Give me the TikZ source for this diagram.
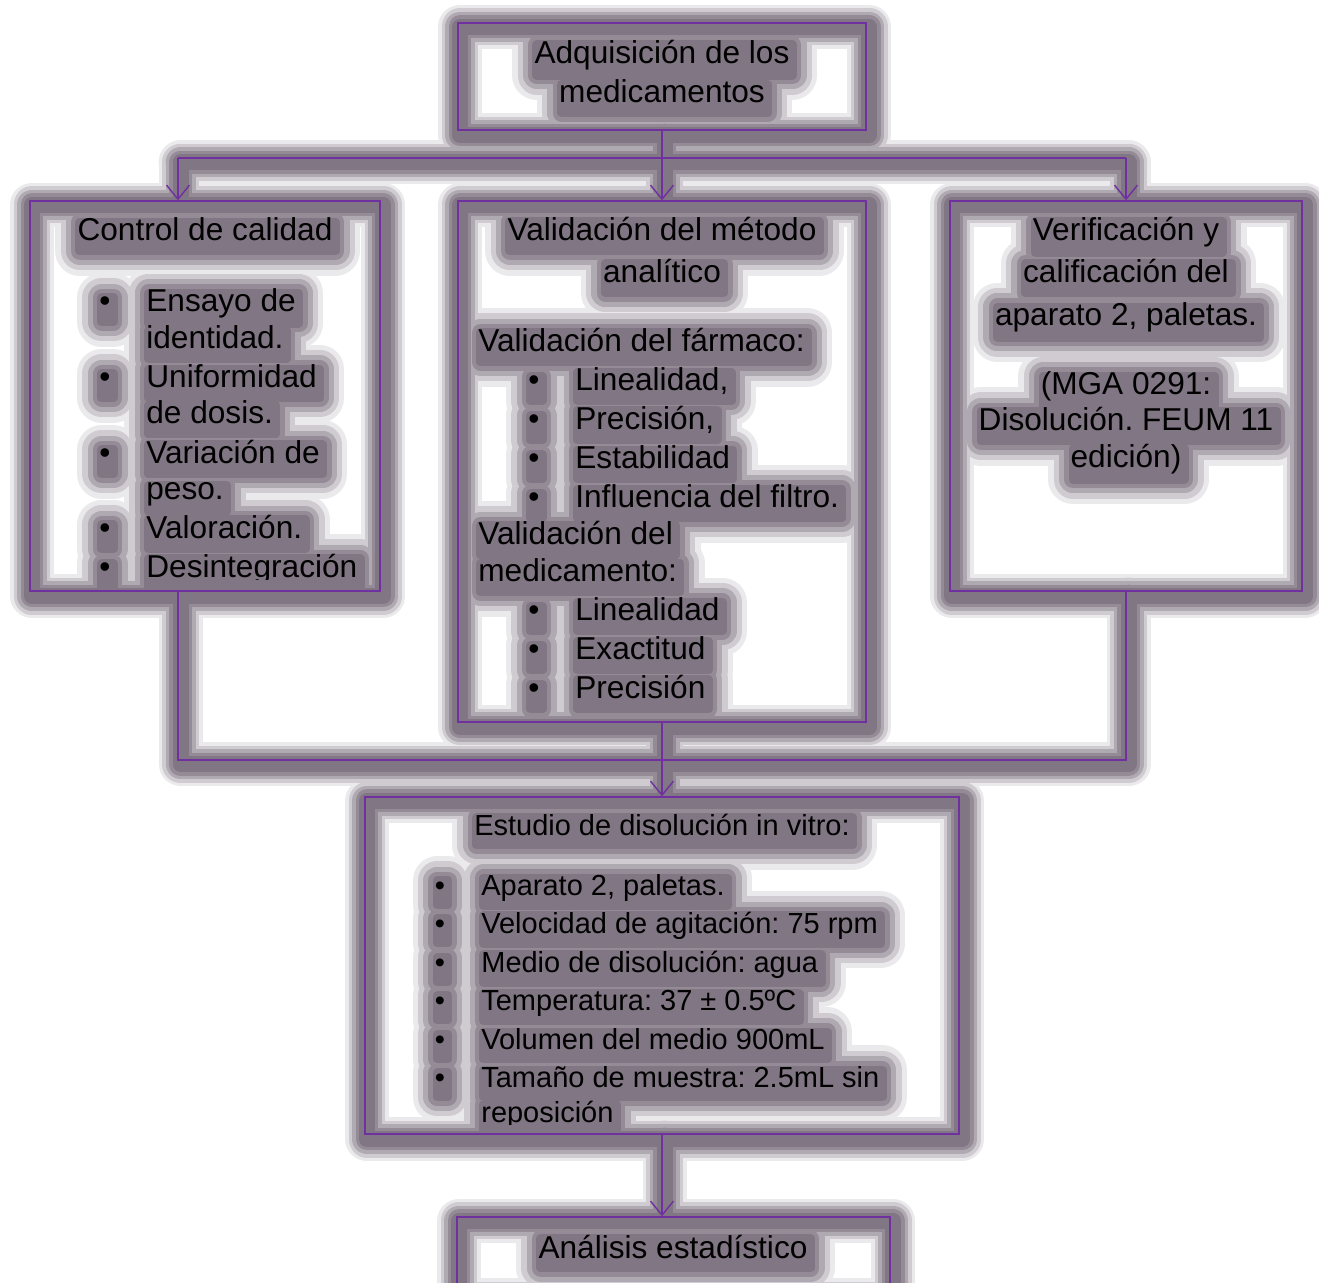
\documentclass[tikz,border=0pt]{standalone}
\usepackage{fontspec}
\setmainfont{Liberation Sans}
\frenchspacing
\usetikzlibrary{arrows.meta}
\pgfdeclarelayer{s1}
\pgfdeclarelayer{s2}
\pgfdeclarelayer{s3}
\pgfdeclarelayer{s4}
\pgfdeclarelayer{s5}
\pgfsetlayers{s1,s2,s3,s4,s5,main}

\definecolor{morado}{RGB}{112,48,160}
\definecolor{brillo}{RGB}{118,106,120}

\newcommand{\cuerpo}{\fontsize{18}{21.6}\selectfont}
\newcommand{\cuerpochico}{\fontsize{16.5}{21.8}\selectfont}
\newcommand{\alto}{\rule[-3pt]{0pt}{13.5pt}}

% halo gris alrededor de lineas y cajas
\newcommand{\halo}[1]{%
  \foreach \l/\w/\c in {s1/25/15, s2/21/35, s3/17/58, s4/13/78, s5/9/92} {%
    \begin{pgfonlayer}{\l}\draw[sombra, brillo!\c, line width=\w pt] #1;\end{pgfonlayer}}}
% halo gris detras del texto
\newcommand{\halotexto}[1]{%
  \foreach \l/\w/\c in {s1/28/15, s2/22/35, s3/16/58, s4/10/78, s5/5/92} {%
    \begin{pgfonlayer}{\l}\filldraw[sombra, brillo!\c, line width=\w pt]
      (#1.north west) rectangle (#1.south east);\end{pgfonlayer}}}

\tikzset{
  sombra/.style={line join=round, line cap=round, transform canvas={shift={(1.5pt,-2.5pt)}}},
  caja/.style={draw=morado, line width=0.8pt, inner sep=0pt},
  linea/.style={draw=morado, line width=0.8pt},
  flecha/.style={linea, -{Straight Barb[length=8pt,width=13pt]}},
  texto/.style={inner sep=0pt, font=\cuerpo\alto, anchor=base west,
    append after command={\pgfextra{\halotexto{\tikzlastnode}}}},
  centro/.style={texto, anchor=base},
  punto/.style={texto, anchor=base}
}

\begin{document}
\begin{tikzpicture}[x=0.02cm, y=-0.02cm]
\useasboundingbox (0,0) rectangle (1319,1283);

% cajas
\node[caja, minimum width=8.16cm, minimum height=2.14cm] (adq) at (662,76.5) {};
\node[caja, minimum width=7.0cm, minimum height=7.8cm] (ctrl) at (205,396) {};
\node[caja, minimum width=8.16cm, minimum height=10.42cm] (valid) at (662,461.5) {};
\node[caja, minimum width=7.04cm, minimum height=7.8cm] (verif) at (1126,396) {};
\node[caja, minimum width=11.88cm, minimum height=6.74cm] (estudio) at (662,965.5) {};
\node[caja, minimum width=8.66cm, minimum height=1.56cm] (analisis) at (673.5,1256) {};
\foreach \n in {adq,ctrl,valid,verif,estudio,analisis}
  \halo{(\n.north west) rectangle (\n.south east)};

% Adquisicion
\node[centro] (adq1) at (662,64) {Adquisición de los};
\node[centro] (adq2) at (662,103) {medicamentos};

% Control de calidad
\node[centro] (ctrlT) at (205,241) {Control de calidad};
\begin{scope}
\clip (30,201) rectangle (380,580);
\foreach \t/\y [count=\i] in {Ensayo de/312, identidad./349, Uniformidad/388,
    de dosis./424, Variación de/464, peso./500, Valoración./539, Desintegración/578}
  \node[texto] (ctrl\i) at (146,\y) {\t};
\foreach \y [count=\i] in {312,388,464,539,578}
  \node[punto] (cb\i) at (105,\y) {\textbullet};
\end{scope}

% Validacion del metodo
\node[centro] (valid1) at (662,241) {Validación del método};
\node[centro] (valid2) at (662,283) {analítico};
\node[texto] (farm) at (478,352) {Validación del fármaco:};
\foreach \t/\y [count=\i] in {{Linealidad,}/391, {Precisión,}/430, Estabilidad/469,
    Influencia del filtro./508} {
  \node[texto] (farm\i) at (575,\y) {\t};
  \node[punto] (fb\i) at (534,\y) {\textbullet};
}
\node[texto] (medi1) at (478,545) {Validación del};
\node[texto] (medi2) at (478,582) {medicamento:};
\foreach \t/\y [count=\i] in {Linealidad/621, Exactitud/660, Precisión/699} {
  \node[texto] (med\i) at (575,\y) {\t};
  \node[punto] (mb\i) at (534,\y) {\textbullet};
}

% Verificacion
\node[centro] (verif1) at (1126,241) {Verificación y};
\node[centro] (verif2) at (1126,283) {calificación del};
\node[centro] (verif3) at (1126,326) {aparato 2, paletas.};
\node[centro] (mga1) at (1126,395) {(MGA 0291:};
\node[centro] (mga2) at (1126,431) {Disolución. FEUM 11};
\node[centro] (mga3) at (1126,468) {edición)};

% Estudio de disolucion
\node[centro, font=\cuerpochico\alto] (estT) at (662,835) {Estudio de disolución in vitro:};
\begin{scope}
\clip (365,797) rectangle (959,1124);
\foreach \t/\y [count=\i] in {{Aparato 2, paletas.}/895, Velocidad de agitación: 75 rpm/933,
    Medio de disolución: agua/972, Temperatura: 37 ± 0.5ºC/1010,
    Volumen del medio 900mL/1049, Tamaño de muestra: 2.5mL sin/1087, reposición/1122}
  \node[texto, font=\cuerpochico\alto] (est\i) at (481,\y) {\t};
\foreach \y [count=\i] in {895,933,972,1010,1049,1087}
  \node[punto, font=\cuerpochico\alto] (eb\i) at (440,\y) {\textbullet};
\end{scope}

% Analisis
\node[centro] (ana) at (673,1258) {Análisis estadístico};

% conectores
\coordinate (sl) at (178,158);
\coordinate (sr) at (1126,158);
\coordinate (jl) at (178,760);
\coordinate (jr) at (1126,760);

\draw[linea] (sl) -- (sr);
\draw[flecha] (adq.south) -- (valid.north);
\draw[flecha] (sl) -- (sl |- ctrl.north);
\draw[flecha] (sr) -- (verif.north);
\draw[linea] (jl |- ctrl.south) -- (jl) -- (jr) -- (verif.south);
\draw[flecha] (valid.south) -- (estudio.north);
\draw[flecha] (estudio.south) -- (estudio.south |- analisis.north);

\halo{(sl) -- (sr)}
\halo{(adq.south) -- (valid.north)}
\halo{(sl) -- (sl |- ctrl.north)}
\halo{(sr) -- (verif.north)}
\halo{(jl |- ctrl.south) -- (jl) -- (jr) -- (verif.south)}
\halo{(valid.south) -- (estudio.north)}
\halo{(estudio.south) -- (estudio.south |- analisis.north)}
\end{tikzpicture}
\end{document}
